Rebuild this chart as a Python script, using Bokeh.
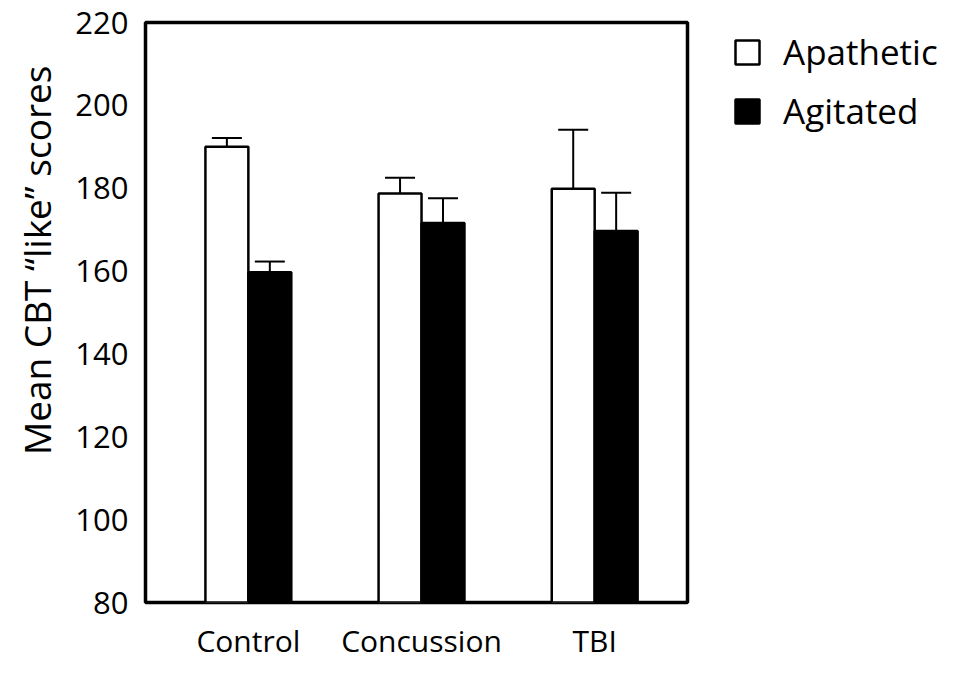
from bokeh.plotting import figure
from bokeh.models import (ColumnDataSource, Whisker, TeeHead, Legend, LegendItem,
                          FixedTicker, Range1d, Title)
from bokeh.transform import dodge
from bokeh.embed import file_html
from bokeh.resources import INLINE

# Mean CBT "like" scores per group, with upward standard-error bars
categories = ["Control", "Concussion", "TBI"]
apathetic = [190.0, 178.7, 179.9]
apathetic_err = [2.1, 3.8, 14.2]
agitated = [159.7, 171.6, 169.7]
agitated_err = [2.6, 6.0, 9.2]
y_ticks = [80, 100, 120, 140, 160, 180, 200, 220]
y_title = "Mean CBT \u201clike\u201d scores"

FONT = "Open Sans"
x_pos = list(range(len(categories)))

src = ColumnDataSource(dict(
    x=x_pos,
    apa=apathetic,
    apa_up=[v + e for v, e in zip(apathetic, apathetic_err)],
    agi=agitated,
    agi_up=[v + e for v, e in zip(agitated, agitated_err)],
))

p = figure(frame_width=542, frame_height=580,
           x_range=Range1d(-0.594, 2.536), y_range=Range1d(80, 220),
           min_border_left=145, min_border_top=22, min_border_bottom=83,
           min_border_right=10,
           output_backend="svg", toolbar_location=None)

bw = 0.248
off = bw / 2

r_apa = p.vbar(x=dodge("x", -off, range=p.x_range), top="apa", bottom=80, width=bw,
               source=src, fill_color="white", line_color="black", line_width=2.5)
r_agi = p.vbar(x=dodge("x", off, range=p.x_range), top="agi", bottom=80, width=bw,
               source=src, fill_color="black", line_color="black", line_width=2.5)

for xf, lo, up in [(dodge("x", -off, range=p.x_range), "apa", "apa_up"),
                   (dodge("x", off, range=p.x_range), "agi", "agi_up")]:
    w = Whisker(base=xf, lower=lo, upper=up, source=src,
                line_color="black", line_width=2,
                lower_head=None,
                upper_head=TeeHead(size=30, line_color="black", line_width=2))
    p.add_layout(w)

# frame
p.outline_line_color = "black"
p.outline_line_width = 3.5
p.grid.visible = False
p.background_fill_color = "white"
p.border_fill_color = "white"

# y axis
p.yaxis.ticker = FixedTicker(ticks=y_ticks)
p.yaxis.axis_line_color = None
p.yaxis.major_tick_line_color = None
p.yaxis.minor_tick_line_color = None
p.yaxis.major_tick_out = 0
p.yaxis.major_tick_in = 0
p.yaxis.major_label_standoff = 17
p.yaxis.major_label_text_font = FONT
p.yaxis.major_label_text_font_size = "31px"
p.yaxis.major_label_text_color = "black"

# y title, anchored toward the top of the frame
p.add_layout(Title(text=y_title, align="right", offset=43, standoff=18,
                   vertical_align="top",
                   text_font=FONT, text_font_size="37px",
                   text_font_style="normal", text_color="black"), "left")

# x axis
p.xaxis.ticker = FixedTicker(ticks=x_pos)
p.xaxis.major_label_overrides = {i: c for i, c in zip(x_pos, categories)}
p.xaxis.axis_line_color = None
p.xaxis.major_tick_line_color = None
p.xaxis.minor_tick_line_color = None
p.xaxis.major_label_standoff = 11
p.xaxis.major_label_text_font = FONT
p.xaxis.major_label_text_font_size = "30px"
p.xaxis.major_label_text_color = "black"

legend = Legend(items=[LegendItem(label="Apathetic", renderers=[r_apa]),
                       LegendItem(label="Agitated", renderers=[r_agi])],
                location=(45, 468), margin=0, padding=14,
                glyph_width=30, glyph_height=30, label_standoff=21, spacing=12,
                label_text_font=FONT, label_text_font_size="35px",
                label_text_color="black", border_line_color=None,
                background_fill_alpha=0)
p.add_layout(legend, "right")

open("out.html", "w").write(file_html(p, INLINE))
